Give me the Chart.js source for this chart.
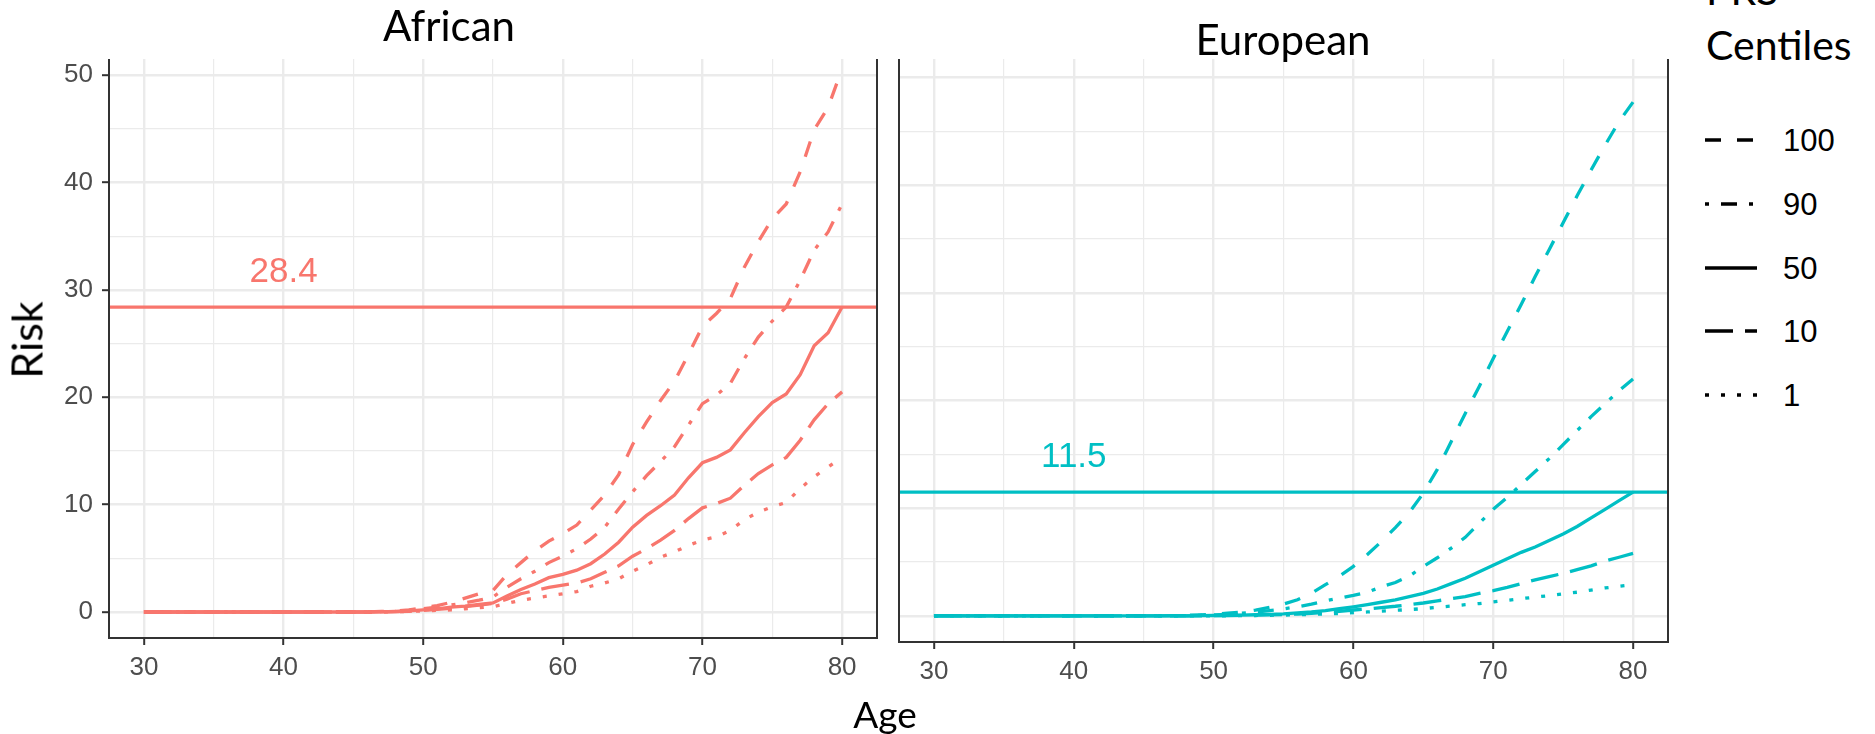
<!DOCTYPE html>
<html>
<head>
<meta charset="utf-8">
<title>Risk by age and PRS centile</title>
<script src="https://cdn.jsdelivr.net/npm/chart.js@4.4.1/dist/chart.umd.min.js"></script>
<style>
  html, body { margin: 0; padding: 0; background: #fff; }
  #page { position: relative; width: 1875px; height: 734px; overflow: hidden; }
  #page canvas { position: absolute; top: 0; }
  .ttl { position: absolute; font-family: Lato, "Open Sans", sans-serif; line-height: 1; color: #000; white-space: nowrap; }
  .lg-lab { position: absolute; left: 1783px; font: 31px/1 "Liberation Sans", Arial, sans-serif; color: #000; }
  .lg-key { position: absolute; left: 1705px; }
</style>
</head>
<body>
<div id="page">
  <canvas id="afrChart" width="880" height="700" style="left:0"></canvas>
  <canvas id="eurChart" width="800" height="700" style="left:880px"></canvas>

  <div class="ttl" style="font-size:42px;left:449px;top:3.7px;transform:translateX(-50%)">African</div>
  <div class="ttl" style="font-size:42px;left:1283px;top:17.7px;transform:translateX(-50%)">European</div>
  <div class="ttl" style="font-size:43px;left:26.4px;top:340px;transform:translate(-50%,-50%) rotate(-90deg)">Risk</div>
  <div class="ttl" style="font-size:37px;left:885px;top:695px;transform:translateX(-50%)">Age</div>
  <div class="ttl" style="font-size:41px;left:1706px;top:-31.4px">PRS</div>
  <div class="ttl" style="font-size:41px;left:1706px;top:23.6px">Centiles</div>
  <div id="legend"></div>
</div>

<script>
/* ===================== DATA ===================== */
const ages = [30, 31, 32, 33, 34, 35, 36, 37, 38, 39, 40, 41, 42, 43, 44, 45, 46,
  47, 48, 49, 50, 51, 52, 53, 54, 55, 56, 57, 58, 59, 60, 61, 62, 63, 64, 65,
  66, 67, 68, 69, 70, 71, 72, 73, 74, 75, 76, 77, 78, 79, 80];

const ageTicks  = [30, 35, 40, 45, 50, 55, 60, 65, 70, 75, 80];
const riskTicks = [0, 5, 10, 15, 20, 25, 30, 35, 40, 45, 50];

const centiles = ['100', '90', '50', '10', '1'];

// African risk (%) by age, one array per PRS centile
const afr100 = [0, 0, 0, 0, 0, 0, 0, 0, 0, 0, 0, 0, 0, 0, 0, 0, 0,
  0.05, 0.1, 0.2, 0.4, 0.6, 0.9, 1.3, 1.7, 2.0, 3.5, 4.6, 5.7, 6.6, 7.3, 8.1, 9.5, 10.9, 12.8, 15.6,
  17.7, 19.7, 21.5, 24.0, 26.6, 27.8, 29.2, 32.1, 34.5, 36.6, 38.0, 41.0, 44.9, 47.0, 50.6];
const afr90 = [0, 0, 0, 0, 0, 0, 0, 0, 0, 0, 0, 0, 0, 0, 0, 0, 0,
  0.03, 0.06, 0.15, 0.3, 0.45, 0.65, 0.85, 1.1, 1.4, 2.3, 3.1, 3.8, 4.6, 5.2, 5.9, 6.8, 7.9, 9.6, 11.2,
  12.7, 14.0, 15.4, 17.4, 19.4, 20.2, 21.3, 23.6, 25.6, 27.1, 28.4, 30.9, 33.7, 35.4, 38.0];
const afr50 = [0, 0, 0, 0, 0, 0, 0, 0, 0, 0, 0, 0, 0, 0, 0, 0, 0,
  0.02, 0.05, 0.1, 0.2, 0.3, 0.45, 0.55, 0.7, 0.85, 1.5, 2.1, 2.6, 3.2, 3.5, 3.9, 4.5, 5.4, 6.5, 7.9,
  9.0, 9.9, 10.9, 12.5, 13.9, 14.4, 15.1, 16.7, 18.2, 19.5, 20.3, 22.1, 24.8, 26.0, 28.4];
const afr10 = [0, 0, 0, 0, 0, 0, 0, 0, 0, 0, 0, 0, 0, 0, 0, 0, 0,
  0.01, 0.03, 0.07, 0.15, 0.25, 0.35, 0.5, 0.65, 0.8, 1.2, 1.7, 2.0, 2.3, 2.5, 2.7, 3.1, 3.7, 4.3, 5.2,
  5.9, 6.7, 7.6, 8.7, 9.7, 10.1, 10.6, 11.8, 12.9, 13.7, 14.4, 16.0, 17.9, 19.4, 20.5];
const afr1 = [0, 0, 0, 0, 0, 0, 0, 0, 0, 0, 0, 0, 0, 0, 0, 0, 0,
  0.01, 0.02, 0.05, 0.1, 0.15, 0.2, 0.3, 0.4, 0.5, 0.8, 1.1, 1.3, 1.5, 1.7, 1.9, 2.4, 2.7, 3.1, 3.8,
  4.4, 5.1, 5.6, 6.2, 6.7, 7.0, 7.6, 8.6, 9.3, 9.8, 10.2, 11.5, 12.6, 13.5, 14.4];

// European risk (%) by age
const eur100 = [0, 0, 0, 0, 0, 0, 0, 0, 0, 0, 0, 0, 0, 0, 0, 0, 0,
  0.02, 0.05, 0.1, 0.15, 0.25, 0.35, 0.55, 0.8, 1.1, 1.5, 2.1, 2.9, 3.7, 4.6, 5.7, 6.9, 8.2, 9.6, 11.4,
  13.6, 16.2, 18.8, 21.3, 23.9, 26.4, 28.9, 31.5, 34.0, 36.5, 39.0, 41.4, 43.7, 45.9, 47.7];
const eur90 = [0, 0, 0, 0, 0, 0, 0, 0, 0, 0, 0, 0, 0, 0, 0, 0, 0,
  0.01, 0.03, 0.06, 0.1, 0.15, 0.25, 0.35, 0.5, 0.65, 0.85, 1.1, 1.4, 1.65, 1.9, 2.2, 2.7, 3.1, 3.7, 4.6,
  5.4, 6.3, 7.3, 8.6, 9.9, 11.0, 12.2, 13.4, 14.6, 15.9, 17.2, 18.5, 19.7, 20.9, 22.0];
const eur50 = [0, 0, 0, 0, 0, 0, 0, 0, 0, 0, 0, 0, 0, 0, 0, 0, 0,
  0, 0.01, 0.02, 0.04, 0.06, 0.08, 0.11, 0.15, 0.2, 0.28, 0.37, 0.5, 0.67, 0.85, 1.05, 1.27, 1.5, 1.8, 2.1,
  2.5, 3.0, 3.5, 4.1, 4.7, 5.3, 5.9, 6.4, 7.0, 7.6, 8.3, 9.1, 9.9, 10.7, 11.5];
const eur10 = [0, 0, 0, 0, 0, 0, 0, 0, 0, 0, 0, 0, 0, 0, 0, 0, 0,
  0, 0, 0.01, 0.02, 0.03, 0.05, 0.07, 0.1, 0.13, 0.18, 0.25, 0.33, 0.42, 0.55, 0.65, 0.78, 0.9, 1.05, 1.2,
  1.4, 1.6, 1.8, 2.1, 2.35, 2.65, 3.0, 3.35, 3.65, 3.95, 4.3, 4.65, 5.1, 5.45, 5.8];
const eur1 = [0, 0, 0, 0, 0, 0, 0, 0, 0, 0, 0, 0, 0, 0, 0, 0, 0,
  0, 0, 0, 0.01, 0.02, 0.03, 0.04, 0.06, 0.08, 0.11, 0.14, 0.18, 0.23, 0.3, 0.37, 0.45, 0.52, 0.59, 0.68,
  0.8, 0.92, 1.04, 1.15, 1.3, 1.45, 1.6, 1.75, 1.88, 2.05, 2.2, 2.4, 2.6, 2.75, 2.9];

// overall population risk at 80, drawn as a reference line per panel
const afrThreshold = 28.4;
const eurThreshold = 11.5;

/* ===================== STYLE ===================== */
const AFR_COLOR = '#F8766D';
const EUR_COLOR = '#00BFC4';
// ggplot linetypes: dashed, dotdash, solid, longdash, dotted
const dashes = [[16, 16], [4, 12, 16, 12], [], [28, 12], [4, 12]];

Chart.defaults.font.family = '"Liberation Sans", Arial, sans-serif';

const isMajor = v => v % 10 === 0;

// threshold line + its label + panel border (ggplot theme_bw look)
const panelDecor = {
  id: 'panelDecor',
  afterDatasetsDraw(chart, args, opts) {
    const { ctx, chartArea: a, scales: { x, y } } = chart;
    ctx.save();
    const yy = y.getPixelForValue(opts.threshold);
    ctx.strokeStyle = opts.color;
    ctx.lineWidth = 3.2;
    ctx.beginPath(); ctx.moveTo(a.left, yy); ctx.lineTo(a.right, yy); ctx.stroke();

    ctx.fillStyle = opts.color;
    ctx.font = '35px "Liberation Sans", Arial, sans-serif';
    ctx.textAlign = 'center';
    ctx.textBaseline = 'alphabetic';
    ctx.fillText(opts.threshold.toFixed(1),
      x.getPixelForValue(opts.labelAge), y.getPixelForValue(opts.threshold + opts.labelLift));

    ctx.strokeStyle = '#333';
    ctx.lineWidth = 2;
    ctx.beginPath();
    ctx.moveTo(a.left, a.top); ctx.lineTo(a.left, a.bottom);
    ctx.lineTo(a.right, a.bottom); ctx.lineTo(a.right, a.top);
    ctx.stroke();
    ctx.restore();
  }
};

function gridOpts(drawTicks) {
  return {
    color: '#EBEBEB',
    lineWidth: c => (c.tick && isMajor(c.tick.value)) ? 2.4 : 1.2,
    drawTicks,
    tickLength: 7,
    tickWidth: 2,
    tickColor: c => (c.tick && isMajor(c.tick.value)) ? '#333' : 'rgba(0,0,0,0)'
  };
}

// One facet panel
function drawPanel(id, series, color, threshold, cfg) {
  const el = document.getElementById(id);
  return new Chart(el, {
    type: 'line',
    data: {
      datasets: series.map((vals, i) => ({
        label: centiles[i],
        data: vals.map((v, j) => ({ x: ages[j], y: v })),
        borderColor: color,
        borderWidth: 3.3,
        borderDash: dashes[i],
        borderCapStyle: 'butt',
        pointRadius: 0,
        tension: 0,
        fill: false
      }))
    },
    options: {
      responsive: false,
      animation: false,
      events: [],
      layout: { padding: { left: 0, right: cfg.padRight, top: 59, bottom: 0 } },
      plugins: {
        legend: { display: false },
        tooltip: { enabled: false },
        panelDecor: { threshold, color, labelAge: 40, labelLift: 2.35 }
      },
      scales: {
        x: {
          type: 'linear', min: 27.5, max: 82.5,
          afterBuildTicks: s => { s.ticks = ageTicks.map(v => ({ value: v })); },
          afterFit: s => { s.height = cfg.xAxisHeight; },
          ticks: {
            callback: v => isMajor(v) ? String(v) : '',
            color: '#4D4D4D', font: { size: 26 }, padding: 7,
            maxRotation: 0, autoSkip: false
          },
          grid: gridOpts(true),
          border: { display: false }
        },
        y: {
          type: 'linear', min: -2.42, max: cfg.yMax,
          afterBuildTicks: s => { s.ticks = riskTicks.map(v => ({ value: v })); },
          afterFit: s => { s.width = cfg.yAxisWidth; },
          ticks: {
            display: cfg.showY,
            callback: v => isMajor(v) ? String(v) : '',
            color: '#4D4D4D', font: { size: 26 }, padding: 9, autoSkip: false
          },
          grid: gridOpts(cfg.showY),
          border: { display: false }
        }
      }
    },
    plugins: [panelDecor]
  });
}

drawPanel('afrChart', [afr100, afr90, afr50, afr10, afr1], AFR_COLOR, afrThreshold,
  { padRight: 3, yAxisWidth: 109, xAxisHeight: 62, yMax: 51.5, showY: true });
drawPanel('eurChart', [eur100, eur90, eur50, eur10, eur1], EUR_COLOR, eurThreshold,
  { padRight: 12, yAxisWidth: 19, xAxisHeight: 58, yMax: 51.7, showY: false });

/* ===================== LEGEND ===================== */
function renderLegend() {
  const host = document.getElementById('legend');
  host.innerHTML = centiles.map((c, i) => {
    const cy = 140 + i * 63.8;
    const dash = dashes[i].length ? `stroke-dasharray="${dashes[i].join(' ')}"` : '';
    return `
      <svg class="lg-key" width="52" height="8" style="top:${cy - 4}px">
        <line x1="0" y1="4" x2="52" y2="4" stroke="#000" stroke-width="3.3" ${dash}/>
      </svg>
      <div class="lg-lab" style="top:${cy - 15.1}px">${c}</div>`;
  }).join('');
}
renderLegend();
</script>
</body>
</html>
